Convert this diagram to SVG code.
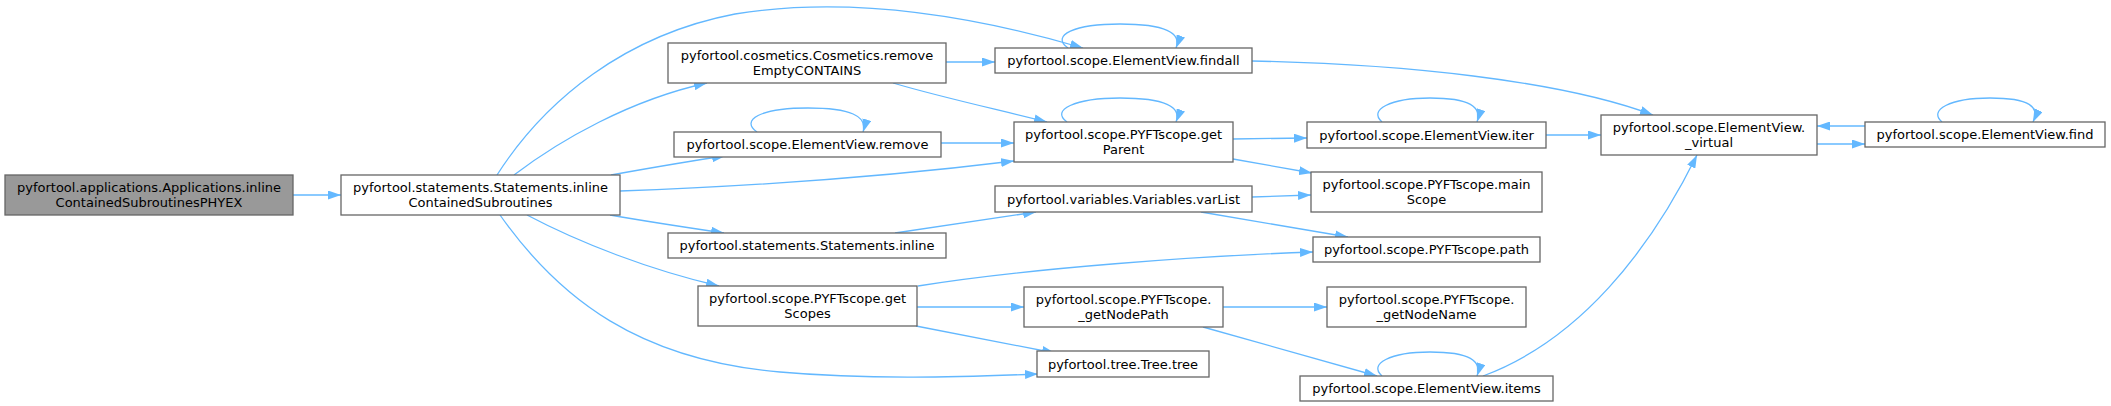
<svg xmlns="http://www.w3.org/2000/svg" width="2111" height="406" viewBox="0 0 2111 406">
<style>
.node rect{fill:#ffffff;stroke:#666666;stroke-width:1.3}
.node.main rect{fill:#999999}
.node text{font-family:"DejaVu Sans","Liberation Sans",sans-serif;font-size:13px;fill:#000000;text-anchor:middle}
#edges path{fill:none;stroke:#63b8ff;stroke-width:1.3;marker-end:url(#arr)}
</style>
<defs>
<marker id="arr" viewBox="0 0 13 9" refX="13" refY="4.5" markerWidth="13" markerHeight="9" markerUnits="userSpaceOnUse" orient="auto">
<path d="M0,0 L13,4.5 L0,9 z" fill="#63b8ff"/>
</marker>
</defs>
<rect x="0" y="0" width="2111" height="406" fill="#ffffff"/>
<g id="edges">
<path d="M293,195 L341,195"/>
<path d="M497,175 C545,100 625,35 735,14 C840,-3 960,12 1083,48"/>
<path d="M514,175 C560,140 630,100 707,83"/>
<path d="M611,175 C650,168 690,161 725,156"/>
<path d="M620,191 C760,186 900,175 1014,161"/>
<path d="M610,215 C650,222 690,228 724,233"/>
<path d="M527,215 C580,243 650,270 719,286"/>
<path d="M500,215 C560,300 640,360 780,372 C870,380 960,377 1038,374"/>
<path d="M946,62 L995,62"/>
<path d="M893,83 C940,97 1000,110 1047,122"/>
<path d="M757,132 C740,120 760,108 808,108 C850,108 868,116 863,132"/>
<path d="M941,143 L1014,143"/>
<path d="M1068,48 C1050,35 1075,24 1120,24 C1165,24 1182,33 1176,48"/>
<path d="M1252,61 C1400,64 1560,80 1653,115"/>
<path d="M1067,122 C1050,110 1075,98 1120,98 C1165,98 1182,107 1176,122"/>
<path d="M1233,139 L1307,138"/>
<path d="M1233,159 L1312,173"/>
<path d="M1382,122 C1368,110 1390,98 1430,98 C1470,98 1482,107 1477,122"/>
<path d="M1546,135 L1601,135"/>
<path d="M1817,144 L1865,144"/>
<path d="M1865,126 L1817,126"/>
<path d="M1942,122 C1928,110 1950,98 1990,98 C2030,98 2040,107 2033,122"/>
<path d="M1252,197 L1311,195"/>
<path d="M1201,212 L1348,237"/>
<path d="M895,233 L1036,212"/>
<path d="M918,286 C1030,268 1200,256 1313,252"/>
<path d="M917,307 L1024,307"/>
<path d="M916,326 L1055,353"/>
<path d="M1223,307 L1327,307"/>
<path d="M1203,327 L1377,376"/>
<path d="M1382,376 C1368,364 1390,352 1430,352 C1470,352 1482,361 1477,376"/>
<path d="M1483,376 C1580,340 1650,250 1697,155"/>
</g>
<g id="n_inlinePHYEX" class="node main"><rect x="5" y="175" width="288" height="40"/><text x="149" y="192">pyfortool.applications.Applications.inline</text><text x="149" y="207">ContainedSubroutinesPHYEX</text></g>
<g id="n_inlineContained" class="node"><rect x="341" y="175" width="279" height="40"/><text x="480.5" y="192">pyfortool.statements.Statements.inline</text><text x="480.5" y="207">ContainedSubroutines</text></g>
<g id="n_removeEmpty" class="node"><rect x="668" y="43" width="278" height="40"/><text x="807" y="60">pyfortool.cosmetics.Cosmetics.remove</text><text x="807" y="75">EmptyCONTAINS</text></g>
<g id="n_findall" class="node"><rect x="995" y="48" width="257" height="25"/><text x="1123.5" y="65">pyfortool.scope.ElementView.findall</text></g>
<g id="n_remove" class="node"><rect x="674" y="132" width="267" height="25"/><text x="807.5" y="149">pyfortool.scope.ElementView.remove</text></g>
<g id="n_getParent" class="node"><rect x="1014" y="122" width="219" height="40"/><text x="1123.5" y="139">pyfortool.scope.PYFTscope.get</text><text x="1123.5" y="154">Parent</text></g>
<g id="n_varList" class="node"><rect x="995" y="186" width="257" height="26"/><text x="1123.5" y="203.5">pyfortool.variables.Variables.varList</text></g>
<g id="n_inline" class="node"><rect x="668" y="233" width="278" height="25"/><text x="807" y="250">pyfortool.statements.Statements.inline</text></g>
<g id="n_getScopes" class="node"><rect x="698" y="286" width="219" height="40"/><text x="807.5" y="303">pyfortool.scope.PYFTscope.get</text><text x="807.5" y="318">Scopes</text></g>
<g id="n_getNodePath" class="node"><rect x="1024" y="287" width="199" height="40"/><text x="1123.5" y="304">pyfortool.scope.PYFTscope.</text><text x="1123.5" y="319">_getNodePath</text></g>
<g id="n_tree" class="node"><rect x="1037" y="351" width="172" height="26"/><text x="1123" y="368.5">pyfortool.tree.Tree.tree</text></g>
<g id="n_iter" class="node"><rect x="1307" y="122" width="239" height="26"/><text x="1426.5" y="139.5">pyfortool.scope.ElementView.iter</text></g>
<g id="n_virtual" class="node"><rect x="1601" y="115" width="216" height="40"/><text x="1709" y="132">pyfortool.scope.ElementView.</text><text x="1709" y="147">_virtual</text></g>
<g id="n_find" class="node"><rect x="1865" y="122" width="240" height="25"/><text x="1985" y="139">pyfortool.scope.ElementView.find</text></g>
<g id="n_mainScope" class="node"><rect x="1311" y="172" width="231" height="40"/><text x="1426.5" y="189">pyfortool.scope.PYFTscope.main</text><text x="1426.5" y="204">Scope</text></g>
<g id="n_path" class="node"><rect x="1313" y="237" width="227" height="25"/><text x="1426.5" y="254">pyfortool.scope.PYFTscope.path</text></g>
<g id="n_getNodeName" class="node"><rect x="1327" y="287" width="199" height="40"/><text x="1426.5" y="304">pyfortool.scope.PYFTscope.</text><text x="1426.5" y="319">_getNodeName</text></g>
<g id="n_items" class="node"><rect x="1300" y="376" width="253" height="25"/><text x="1426.5" y="393">pyfortool.scope.ElementView.items</text></g>
</svg>
